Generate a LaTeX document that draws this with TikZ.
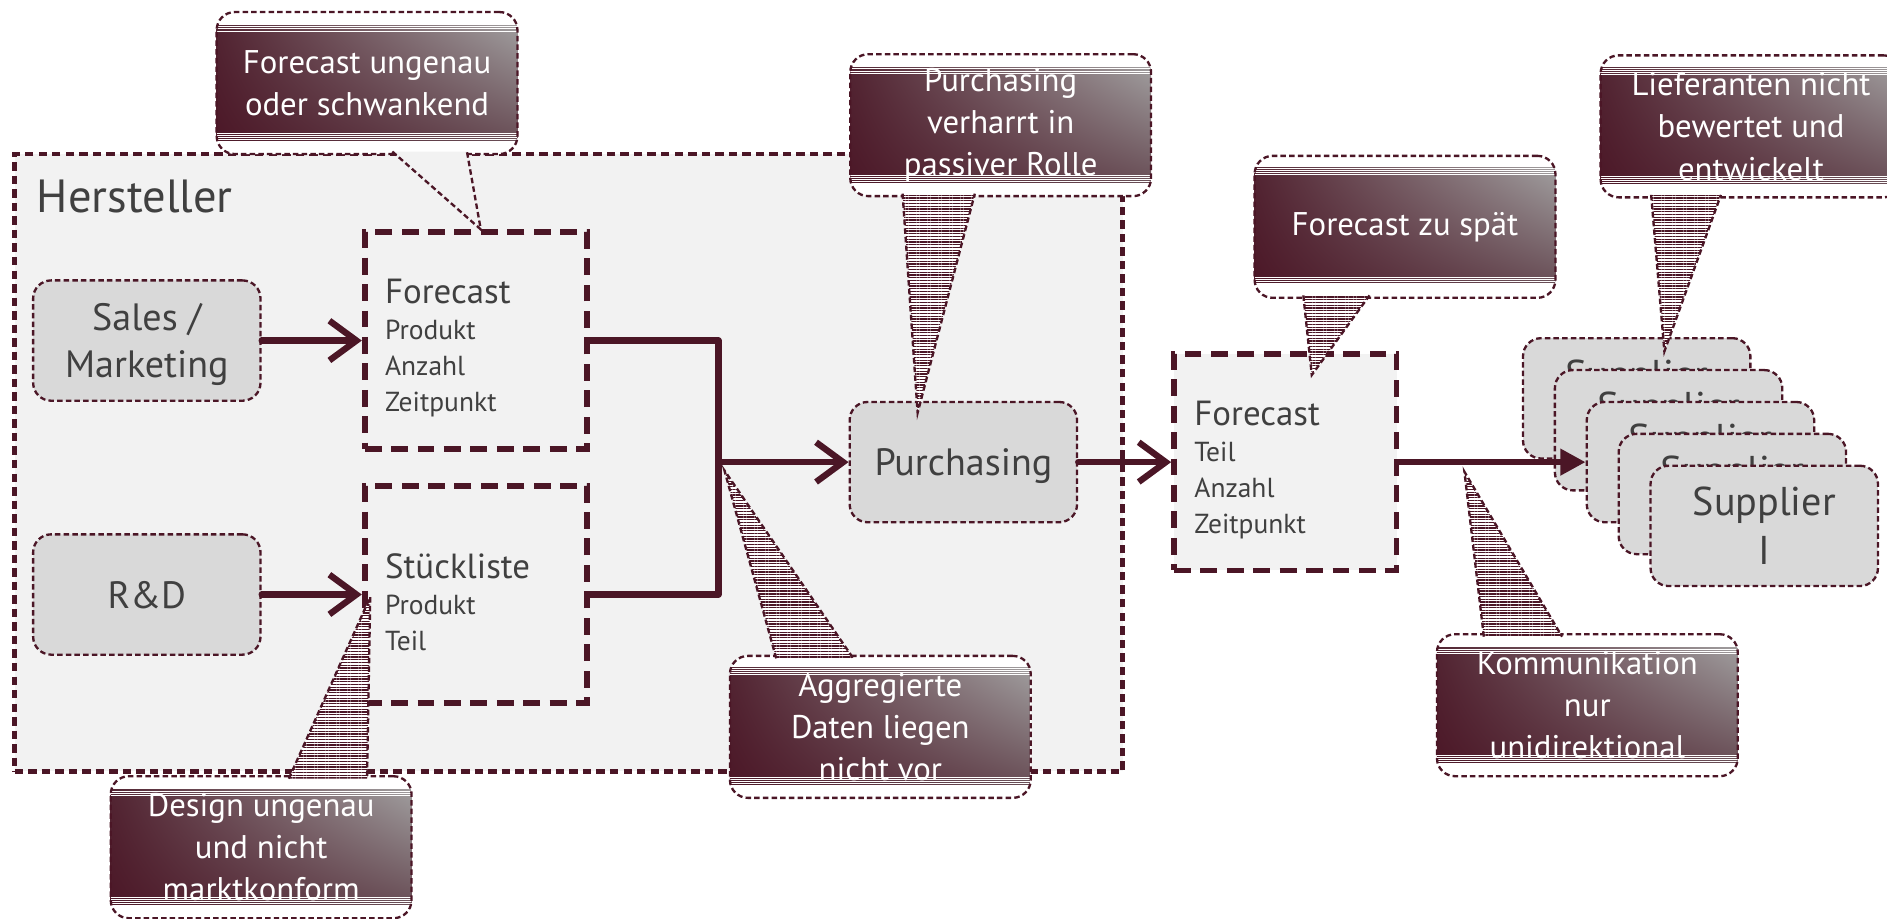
\documentclass[tikz,border=0pt]{standalone}
\usepackage{fontspec}
\setmainfont{PT Sans}
\usetikzlibrary{arrows.meta,calc,patterns.meta,shadings}

\definecolor{cDark}{HTML}{4B1626}
\definecolor{cBox}{HTML}{D9D9D9}
\definecolor{cLight}{HTML}{F2F2F2}
\definecolor{cText}{HTML}{404040}

\tikzset{
  area/.style={draw=cDark, fill=cLight, line width=2.1pt, dash pattern=on 4pt off 2.4pt,
    minimum width=18.42cm, minimum height=10.26cm},
  unit/.style={draw=cDark, fill=cBox, line width=1.1pt, dash pattern=on 2.6pt off 1.5pt,
    rounded corners=0.3cm, minimum width=3.78cm, minimum height=2cm, align=center,
    text depth=0pt, text=cText, font=\fontsize{18}{22}\selectfont},
  datenbox/.style={draw=cDark, fill=cLight, line width=2.7pt, dash pattern=on 8pt off 4.5pt,
    minimum width=3.7cm, minimum height=3.6cm, text width=3.02cm, inner xsep=0.34cm,
    align=left, text=cText, font=\fontsize{13}{17}\selectfont},
  flow/.style={draw=cDark, line width=3pt, line join=round, line cap=round},
  barb/.style={-{Straight Barb[length=0.45cm, width=0.66cm]}},
  probbox/.style={draw=cDark, line width=1.1pt, dash pattern=on 2.6pt off 1.5pt, fill=white,
    rounded corners=0.3cm, minimum width=5cm, minimum height=2.36cm, align=center,
    text=white, font=\fontsize{15.5}{20}\selectfont,
    path picture={
      \shade[sharp corners, upper left=cDark!85!gray, upper right=gray!70,
        lower left=cDark, lower right=cDark!55!gray]
        ([yshift=-0.2cm]path picture bounding box.north west) rectangle
        ([yshift=0.23cm]path picture bounding box.south east);
      \foreach \d in {0.21,0.245,0.28,0.315}{
        \draw[solid, white, line width=0.4pt]
          ([yshift=-\d cm]path picture bounding box.north west) --
          ([yshift=-\d cm]path picture bounding box.north east);
        \draw[solid, white, line width=0.4pt]
          ([yshift=\d cm+0.03cm]path picture bounding box.south west) --
          ([yshift=\d cm+0.03cm]path picture bounding box.south east);
      }
    }},
  zeiger/.style={fill=white, postaction={pattern={Lines[angle=0, distance=1.3pt, line width=0.6pt]},
    pattern color=cDark}},
  zeigerleer/.style={fill=cLight},
  probline/.style={draw=cDark, line width=1.1pt, dash pattern=on 2.6pt off 1.5pt},
}

% Kopfzeile in den Datenboxen
\newcommand{\kopf}[1]{{\fontsize{16.5}{17}\selectfont\rule{0pt}{19pt}#1}}

% #1 pointer style, #2 name, #3 position, #4 text, #5 base, #6 tip, #7 base
\newcommand{\hinweis}[7][zeiger]{%
  \node[probbox] (#2) at #3 {#4};
  \path[#1] #5 -- #6 -- #7 -- cycle;
  \draw[probline] #5 -- #6 -- #7;
}

\begin{document}
\begin{tikzpicture}[x=0.02cm, y=-0.02cm]
  \useasboundingbox (0,0) rectangle (1568,763);

  % Hersteller
  \node[area] (herst) at (472.5,384.5) {};
  \node[anchor=west, inner sep=0pt, text=cText, font=\fontsize{22}{22}\selectfont]
    (hlabel) at ($(herst.north west)+(20,37)$) {Hersteller};

  \node[unit] (sales) at (122,283) {Sales /\\Marketing};
  \node[unit] (rd) at (122,494) {R\&D};
  \node[datenbox] (fc) at (395.5,283) {\kopf{Forecast}\\Produkt\\Anzahl\\Zeitpunkt};
  \node[datenbox] (sl) at (395.5,494) {\kopf{Stückliste}\\Produkt\\Teil};
  \coordinate (jn) at (597,384);
  \node[unit] (purch) at (800.5,384) {Purchasing};

  % Lieferkette
  \node[datenbox] (fcx) at (1068,384) {\kopf{Forecast}\\Teil\\Anzahl\\Zeitpunkt};
  \foreach \i in {1,...,5}
    \node[unit, font=\fontsize{19}{23}\selectfont] (sup\i)
      at ({1360+26.5*(\i-1)},{331+26.5*(\i-1)})
      {Supplier\\\ifnum\i=5 I\else\phantom{I}\fi};

  % Pfeile
  \draw[flow, barb] (sales.east) -- (fc.west);
  \draw[flow, barb] (rd.east) -- (sl.west);
  \draw[flow] (fc.east) -| (jn);
  \draw[flow] (sl.east) -| (jn);
  \draw[flow, barb] (jn) -- (purch.west);
  \draw[flow, barb] (purch.east) -- (fcx.west);
  \draw[flow, -{Triangle[length=0.42cm, width=0.42cm]}] (fcx.east) -- (sup3.west);

  % Schwachstellen
  \hinweis[zeigerleer]{cb1}{(305,69)}{Forecast ungenau\\oder schwankend}
    {($(cb1.south)+(21,-3)$)}{($(fc.north)+(4,0)$)}{($(cb1.south)+(83,-3)$)}
  \hinweis{cb2}{(831.5,104)}{Purchasing\\verharrt in\\passiver Rolle}
    {($(cb2.south)+(-81.5,-3)$)}{($(purch.north)+(-38,10)$)}{($(cb2.south)+(-21.5,-3)$)}
  \hinweis{cb3}{(1167.5,188.5)}{Forecast zu spät}
    {($(cb3.south)+(-84.5,-3)$)}{($(fcx.north)+(22,20)$)}{($(cb3.south)+(-29.5,-3)$)}
  \hinweis{cb4}{(1455,105)}{Lieferanten nicht\\bewertet und\\entwickelt}
    {($(cb4.south)+(-83,-3)$)}{($(sup1.north)+(23,12)$)}{($(cb4.south)+(-25,-3)$)}
  \hinweis{cb5}{(731.5,604)}{Aggregierte\\Daten liegen\\nicht vor}
    {($(cb5.north)+(-86.5,3)$)}{($(jn)+(5,7)$)}{($(cb5.north)+(-22.5,3)$)}
  \hinweis{cb6}{(217,704)}{Design ungenau\\und nicht\\marktkonform}
    {($(cb6.north)+(23,3)$)}{($(sl.west)+(7,2)$)}{($(cb6.north)+(88,3)$)}
  \hinweis{cb7}{(1319,586)}{Kommunikation\\nur\\unidirektional}
    {($(cb7.north)+(-86,3)$)}{($(fcx.east)+(54,8)$)}{($(cb7.north)+(-21,3)$)}
\end{tikzpicture}
\end{document}
